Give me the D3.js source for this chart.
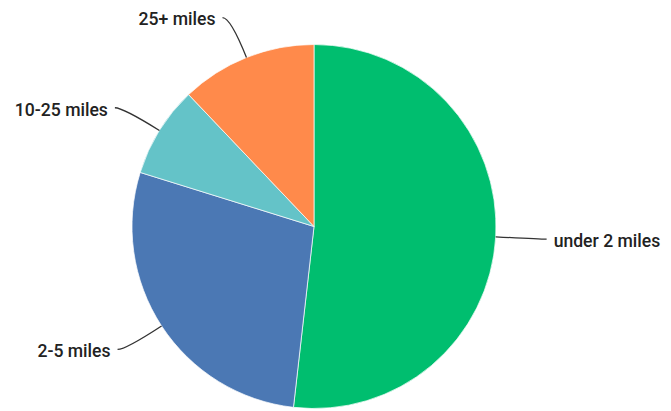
<!DOCTYPE html>
<html>
<head>
<meta charset="utf-8">
<script src="https://cdn.jsdelivr.net/npm/d3@7"></script>
<style>
  html, body { margin: 0; padding: 0; background: #fff; }
  svg { display: block; }
  text { font-family: Roboto, "Open Sans", sans-serif; font-weight: 500; fill: #222; }
</style>
</head>
<body>
<svg id="chart" width="671" height="411"></svg>
<script>
// Share of trips by distance
const categories = ["under 2 miles", "2-5 miles", "10-25 miles", "25+ miles"];
const shares = [51.8, 28.0, 8.1, 12.1];
const colors = ["#00be6f", "#4b78b4", "#64c3c8", "#ff8a4b"];

const width = 671, height = 411;
const cx = 314, cy = 226.5, radius = 182;

const svg = d3.select("#chart");
const g = svg.append("g").attr("transform", `translate(${cx},${cy})`);

const data = categories.map((c, i) => ({ label: c, value: shares[i], color: colors[i] }));

const pie = d3.pie().value(d => d.value).sort(null);
const arcs = pie(data);
const arc = d3.arc().innerRadius(0).outerRadius(radius);

g.selectAll("path.slice")
  .data(arcs)
  .join("path")
  .attr("class", "slice")
  .attr("d", arc)
  .attr("fill", d => d.data.color)
  .attr("stroke", "#fff")
  .attr("stroke-width", 0.7);

// Leader lines: leave the rim at the slice's mid-angle, bend outward and
// finish with a short horizontal run toward the label.
const polar = (a, r) => [r * Math.sin(a), -r * Math.cos(a)];
const bendR = radius + 43;

arcs.forEach(d => {
  const mid = (d.startAngle + d.endAngle) / 2;
  const dir = Math.sin(mid) >= 0 ? 1 : -1;
  const e = polar(mid, radius);
  const m = polar(mid, bendR);
  const l = [m[0] + dir * 8, m[1]];

  const p = d3.path();
  p.moveTo(e[0], e[1]);
  p.quadraticCurveTo(m[0], m[1], l[0], l[1]);

  g.append("path")
    .attr("d", p.toString())
    .attr("fill", "none")
    .attr("stroke", "#333")
    .attr("stroke-width", 1.3);

  g.append("text")
    .attr("x", l[0] + dir * 7)
    .attr("y", l[1])
    .attr("dy", "0.45em")
    .attr("text-anchor", dir > 0 ? "start" : "end")
    .attr("font-size", 17.6)
    .text(d.data.label);
});
</script>
</body>
</html>
